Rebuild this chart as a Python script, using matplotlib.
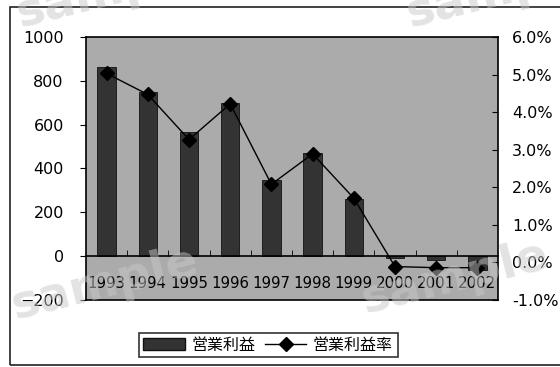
import matplotlib.pyplot as plt
from matplotlib.patches import Rectangle, Patch
from matplotlib.lines import Line2D
from matplotlib.ticker import FuncFormatter

plt.rcParams['font.family'] = ['DejaVu Sans', 'Noto Sans CJK JP']

years = ['1993', '1994', '1995', '1996', '1997', '1998', '1999', '2000', '2001', '2002']
profit = [865, 747, 565, 697, 347, 472, 262, -10, -17, -65]
margin = [5.03, 4.47, 3.27, 4.22, 2.08, 2.89, 1.71, -0.11, -0.14, -0.14]
left_ticks = [-200, 0, 200, 400, 600, 800, 1000]
right_ticks = [-1, 0, 1, 2, 3, 4, 5, 6]

fig = plt.figure(figsize=(5.6, 3.67), dpi=100)
fig.patches.append(Rectangle((10 / 560, 2 / 367), 1.0, 1 - 9 / 367, transform=fig.transFigure,
                             fill=False, ec='#222222', lw=1.2, zorder=0))

ax = fig.add_axes([86 / 560, 1 - 300 / 367, 412 / 560, 263 / 367])
ax.set_zorder(1)
ax.set_facecolor('#ababab')
x = range(len(years))
ax.bar(x, profit, width=0.45, color='#333333', edgecolor='#111111', lw=0.6, zorder=2)
ax.set_xlim(-0.5, len(years) - 0.5)
ax.set_ylim(-200, 1000)
ax.set_yticks(left_ticks)
ax.tick_params(axis='y', direction='out', length=4, pad=12, labelsize=11.5)

ax.spines['bottom'].set_position(('data', 0))
ax.spines['bottom'].set_linewidth(1.2)
for s in ['top', 'left', 'right']:
    ax.spines[s].set_visible(False)
ax.set_xticks(list(x))
ax.set_xticklabels(years)
ax.set_xticks([i + 0.5 for i in range(len(years) - 1)], minor=True)
ax.tick_params(axis='x', which='major', length=0, pad=14, labelsize=10.8)
ax.tick_params(axis='x', which='minor', direction='in', length=4)

ax2 = ax.twinx()
ax2.set_zorder(2)
ax2.patch.set_visible(False)
ax2.plot(x, margin, color='black', lw=1, marker='D', markersize=7, zorder=3)
ax2.set_ylim(-1, 6)
ax2.set_yticks(right_ticks)
ax2.yaxis.set_major_formatter(FuncFormatter(lambda v, p: f'{v:.1f}%'))
ax2.tick_params(axis='y', direction='in', length=4, pad=10, labelsize=11.5)
for s in ax2.spines.values():
    s.set_linewidth(1.2)

handles = [Patch(facecolor='#333333', edgecolor='#111111'),
           Line2D([], [], color='black', lw=1, marker='D', markersize=7)]
leg = fig.legend(handles, ['営業利益', '営業利益率'], loc='center', bbox_to_anchor=(268 / 560, 1 - 345 / 367),
                 ncol=2, fontsize=11.5, frameon=True, fancybox=False, handlelength=2.6,
                 columnspacing=0.6, handletextpad=0.4, borderpad=0.3)
leg.get_frame().set_edgecolor('black')
leg.get_frame().set_linewidth(1.2)

# watermark, faint over everything
wm = dict(color='#c8c8c8', alpha=0.5, fontsize=34, fontweight='bold', ha='center', va='center',
          rotation=14, zorder=5)
fig.text(105 / 560, 1 - 284 / 367, 'sample', **wm)
fig.text(455 / 560, 1 - 278 / 367, 'sample', **wm)
fig.text(110 / 560, 1 + 8 / 367, 'sample', **wm)
fig.text(500 / 560, 1 + 8 / 367, 'sample', **wm)

fig.savefig('out.png', dpi=100)
